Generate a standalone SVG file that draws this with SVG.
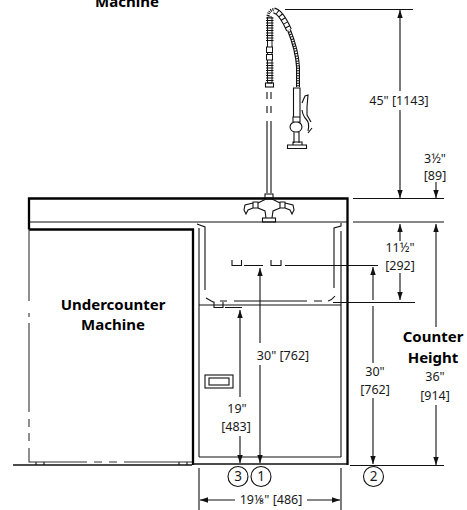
<svg xmlns="http://www.w3.org/2000/svg" width="467" height="510" viewBox="0 0 467 510">
<style>
text{font-family:"Noto Sans","Open Sans","Liberation Sans",sans-serif;font-size:12.500px;fill:#1a1a1a;text-anchor:middle}
.b{font-weight:700;font-size:15px;fill:#000}
.n{font-size:13.500px}
.l{fill:none;stroke:#111;stroke-width:1.100}
.t{fill:none;stroke:#000;stroke-width:2.300}
.m{fill:none;stroke:#111;stroke-width:1.600}
.d{fill:none;stroke:#333;stroke-width:1.100}
.c{fill:none;stroke:#111;stroke-width:1.100}
</style>
<defs>
<marker id="a" viewBox="0 0 8 8" refX="8" refY="4" markerWidth="8" markerHeight="8" orient="auto" markerUnits="userSpaceOnUse"><path d="M0 1.300L8 4L0 6.700z" fill="#111"/></marker>
</defs>
<g id="counter">
<path class="t" d="M29 229.500V198.500H347.500V465"/>
<path class="l" d="M29 222H347"/>
</g>
<g id="machine">
<path class="t" d="M29 229.500H193V465"/>
<path class="d" d="M29 229V301M29 313V317M29 323V412M29 419V427M29 433V441M29 448V462H87M94 462H102M109 462H117M124 462H192"/>
<path class="l" d="M36 462V465M44 462V465M179 462V465M187 462V465"/>
<path class="m" d="M13 465H192"/>
<text class="b" x="127" y="7">Machine</text>
<text class="b" x="113" y="310">Undercounter</text>
<text class="b" x="113" y="330">Machine</text>
</g>
<g id="cabinet">
<path class="m" d="M193 464H347.500"/>
<path class="l" d="M199 228V457M341 231V457M199 457H341M199 305H341"/>
<path class="l" d="M197 224L205 227V290M341 223V226L334 228V288"/>
<path class="l" d="M206 298L213 302H214V307.500H223V302M220 301H227M234 301H307M314 301H322M328 301Q332 300 335 296M225 307.500H242"/>
<path class="l" d="M232 260V265.500H241.500V260M244 265.500H263M271 260V265.500H281V260"/>
<rect class="l" x="205" y="375" width="28" height="13"/>
<rect class="l" x="209" y="378" width="20" height="7"/>
</g>
<g id="faucet">
<path class="l" d="M267 121V193M271 121V193M267 92V99M271 92V99M267 106V113M271 106V113"/>
<rect class="l" x="265.500" y="83" width="8" height="4"/>
<path d="M267.500 17H272V83H267.500z" fill="none" stroke="#111" stroke-width="1"/>
<path stroke="#111" stroke-width="1.100" d="M266 18H273.500M266 20.500H273.500M266 23H273.500M266 25.500H273.500M266 28H273.500M266 30.500H273.500M266 33H273.500M266 35.500H273.500M266 38H273.500M266 40.500H273.500M266 63H273.500M266 65.500H273.500M266 68H273.500M266 70.500H273.500M266 73H273.500M266 75.500H273.500M266 78H273.500M266 80.500H273.500"/>
<rect x="266.500" y="47" width="6" height="5.500" fill="#fff" stroke="#111"/>
<rect x="266.500" y="54.500" width="6" height="5.500" fill="#fff" stroke="#111"/>
<path d="M268 16Q269 10 274 9.500" fill="none" stroke="#111" stroke-width="3" stroke-dasharray="1 1"/>
<path d="M274 10.500Q281 12 289 30" fill="none" stroke="#111" stroke-width="6"/>
<path d="M274 10.500Q281 12 289 30" fill="none" stroke="#fff" stroke-width="3.800" stroke-dasharray="3.500 1"/>
<path d="M289 30Q297 50 298 67V87" fill="none" stroke="#111" stroke-width="4"/>
<path d="M289 30Q297 50 298 67V87" fill="none" stroke="#fff" stroke-width="1.800" stroke-dasharray="1.500 1"/>
<path class="l" fill="#fff" d="M293.500 88H300V117H293.500zM293 117H300V122H293zM296 122Q290.500 122 290 127Q290.500 132 296 132Q301.500 132 302 127Q301.500 122 296 122M294 132V143M299 132V143M293 142H302V145H293zM287.500 145H306.500V148.500H287.500z"/>
<path class="l" d="M302 103L305 96L308 95L307 107V115L311 122M302 110Q303 116 306 119Q310 123 308 131M312 128L308 133"/>
<rect class="l" x="265" y="194" width="8" height="4"/>
<path class="l" d="M258 203L266 199H272L280 203M258 208L265 211L266 218M280 208L273 211L272 218"/>
<path class="l" d="M253 202H258V208H253zM253 203L245 205L244 210L246 214L248 210L253 208M280 202H285V208H280zM285 203L293 205L294 210L292 214L290 210L285 208"/>
<rect class="l" x="262.500" y="218" width="13" height="4"/>
</g>
<g id="connectors">
<path class="l" d="M285 9.500H413M353 198.500H444M353 222H444M285 265.500H378M333 302.500H415M350 465.500H444"/>
<path class="c" marker-end="url(#a)" d="M400 91V10"/>
<path class="c" marker-end="url(#a)" d="M400 110V198"/>
<path class="c" marker-end="url(#a)" d="M436 182V198"/>
<path class="c" marker-end="url(#a)" d="M400 241V224"/>
<path class="c" marker-end="url(#a)" d="M400 273V300"/>
<path class="c" marker-end="url(#a)" d="M373 300V267"/>
<path class="c" d="M373 306V363"/>
<path class="c" marker-end="url(#a)" d="M373 398V464"/>
<path class="c" marker-end="url(#a)" d="M436 327V224"/>
<path class="c" marker-end="url(#a)" d="M436 405V465"/>
<path class="c" marker-end="url(#a)" d="M260 343V268"/>
<path class="c" marker-end="url(#a)" d="M260 365V463"/>
<path class="c" marker-end="url(#a)" d="M240 397V310"/>
<path class="c" marker-end="url(#a)" d="M240 436V463"/>
<path class="c" d="M199 468V510M341 468V510"/>
<path class="c" marker-end="url(#a)" d="M235 500H200"/>
<path class="c" marker-end="url(#a)" d="M307 500H340"/>
</g>
<g id="labels">
<text x="399" y="105">45" [1143]</text>
<text x="435" y="163">3½"</text>
<text x="435" y="180">[89]</text>
<text x="400" y="252">11½"</text>
<text x="400" y="269.500">[292]</text>
<text x="283" y="360">30" [762]</text>
<text x="375" y="376">30"</text>
<text x="375" y="394">[762]</text>
<text x="237" y="413">19"</text>
<text x="236" y="431">[483]</text>
<text class="b" x="433" y="342">Counter</text>
<text class="b" x="433" y="363">Height</text>
<text x="435" y="381">36"</text>
<text x="435" y="400">[914]</text>
<text x="271" y="504">19⅛" [486]</text>
</g>
<g id="callout-3"><circle class="l" cx="238" cy="476.500" r="10"/><text class="n" x="238" y="481">3</text></g>
<g id="callout-1"><circle class="l" cx="261" cy="476.500" r="10"/><text class="n" x="261" y="481">1</text></g>
<g id="callout-2"><circle class="l" cx="373.500" cy="476.500" r="10"/><text class="n" x="373.500" y="481">2</text></g>
</svg>
